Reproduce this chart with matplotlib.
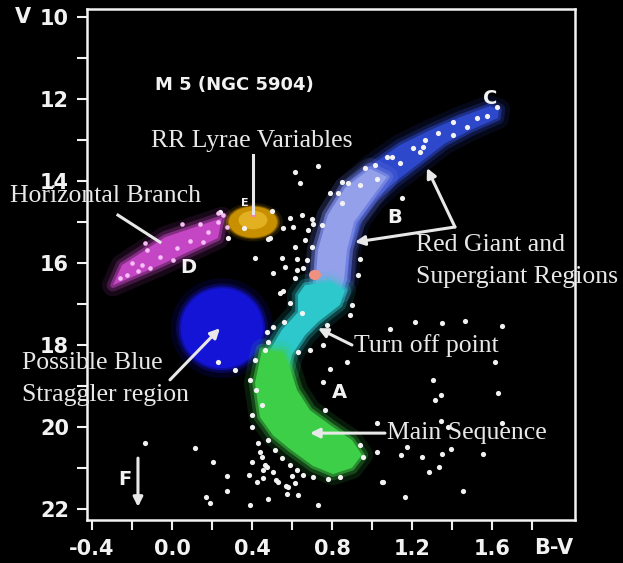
import matplotlib
matplotlib.use("Agg")
import matplotlib.pyplot as plt
from matplotlib.patches import Polygon, Ellipse

plt.rcParams['axes.unicode_minus'] = False

# region outlines in (B-V, V)
hb_bv = [-0.295, -0.06, 0.23, 0.25, -0.035, -0.25]
hb_v = [16.54, 16.05, 15.39, 14.90, 15.37, 16.05]

rgb_bv = [0.715, 0.73, 0.78, 0.865, 0.99, 1.14, 1.29, 1.44, 1.59, 1.635,
          1.63, 1.49, 1.365, 1.24, 1.115, 1.015, 0.94, 0.89, 0.88, 0.84]
rgb_v = [16.66, 15.68, 14.83, 14.15, 13.63, 13.12, 12.76, 12.44, 12.17, 12.25,
         12.46, 12.76, 13.08, 13.55, 14.02, 14.46, 14.95, 15.68, 16.41, 16.71]

sgb_bv = [0.715, 0.73, 0.78, 0.865, 0.99, 1.075, 0.99, 0.91, 0.875, 0.86, 0.84]
sgb_v = [16.66, 15.68, 14.83, 14.17, 13.7, 13.9, 14.46, 15.0, 15.68, 16.41, 16.71]

to_bv = [0.50, 0.49, 0.55, 0.63, 0.63, 0.665, 0.79, 0.865, 0.84, 0.73, 0.665, 0.60, 0.58]
to_v = [18.66, 18.12, 17.63, 17.20, 16.78, 16.54, 16.46, 16.66, 17.02, 17.44, 17.76, 18.24, 18.66]

ms_bv = [0.45, 0.415, 0.44, 0.505, 0.59, 0.705, 0.805,
         0.90, 0.95, 0.90, 0.79, 0.69, 0.625, 0.59, 0.555]
ms_v = [18.12, 18.93, 19.76, 20.20, 20.54, 20.95, 21.15,
        21.00, 20.68, 20.32, 19.95, 19.59, 19.10, 18.56, 18.17]

# RR Lyrae and blue straggler blobs (centre, width, height)
rr_bv, rr_v, rr_w, rr_h = 0.405, 15.0, 0.24, 0.75
bs_bv, bs_v, bs_w, bs_h = 0.25, 17.59, 0.41, 1.95

# stars on the horizontal branch
hbs_bv = [0.05, 0.14, 0.23, 0.255, 0.23, 0.275, 0.155, 0.005, -0.15, -0.125,
          -0.26, -0.225, -0.11, 0.025, -0.135, -0.2, -0.06, 0.09, 0.18, -0.17]
hbs_v = [15.05, 15.05, 14.78, 14.83, 15.0, 15.12, 15.49, 15.93, 16.05, 15.68,
         16.37, 16.29, 16.12, 15.63, 15.51, 16.0, 15.85, 15.45, 15.25, 16.2]

# field / cluster stars
star_bv = [1.625, 1.575, 1.525, 1.475, 1.405, 1.405, 1.33, 1.265, 1.255, 1.205,
           1.24, 1.10, 1.14, 1.015, 0.965, 1.025, 1.15, 1.075, 0.73, 0.615,
           0.64, 0.85, 0.88, 0.79, 0.83, 0.85, 0.94, 0.50, 0.59, 0.65,
           0.70, 0.705, 0.555, 0.605, 0.68, 0.75, 0.48, 0.615, 0.665, 0.70,
           0.55, 0.625, 0.675, 0.565, 0.625, 0.655, 0.505, 0.615, 0.555, 0.415,
           0.94, 0.93, 0.49, 0.28, 0.24, 0.54, 0.59, 0.65, 0.505, 0.56,
           0.48, 0.315, 0.23, 0.39, 0.775, 0.765, 0.63, 0.69, 0.755, 0.90,
           0.89, 0.875, 0.79, 0.755, 0.765, 0.40, 0.40, 1.025, 0.94, 0.955,
           1.025, 1.05, 0.475, 1.09, 1.215, 1.35, 1.465, 1.65, 1.615, 1.305,
           1.345, 1.315, 1.63, 1.345, 1.38, 1.65, 1.175, 1.145, 1.25, 1.35,
           1.395, 1.555, 1.285, 1.335, 1.055, 1.455, 1.165, 0.73, -0.135, 0.115,
           0.205, 0.275, 0.275, 0.17, 0.19, 0.43, 0.40, 0.385, 0.39, 0.45,
           0.465, 0.425, 0.455, 0.505, 0.53, 0.58, 0.615, 0.575, 0.63, 0.48,
           0.655, 0.705, 0.78, 0.84, 0.475, 0.48, 0.515, 0.55, 0.59, 0.625,
           0.415, 0.42, 0.45, 0.465, 0.60, 0.57, 0.52, 0.455, 0.44, 0.36]
star_v = [12.20, 12.41, 12.46, 12.68, 12.56, 12.88, 12.83, 13.00, 13.17, 13.20,
          13.29, 13.41, 13.56, 13.61, 13.68, 13.95, 14.41, 13.41, 13.63, 13.78,
          14.05, 14.02, 14.05, 14.29, 14.29, 14.54, 14.10, 14.73, 14.90, 14.83,
          14.93, 15.05, 15.15, 15.12, 15.20, 15.07, 15.41, 15.61, 15.44, 15.61,
          15.88, 15.90, 15.93, 16.10, 16.17, 16.12, 16.24, 16.37, 16.68, 15.88,
          15.90, 16.29, 15.39, 15.39, 14.76, 16.73, 16.98, 17.22, 17.56, 17.44,
          17.93, 18.61, 18.41, 18.85, 17.51, 17.68, 18.17, 18.12, 18.00, 17.02,
          17.27, 18.41, 18.59, 18.90, 19.59, 19.71, 20.00, 19.90, 20.44, 20.73,
          20.61, 21.34, 17.68, 17.61, 17.44, 17.46, 17.41, 17.54, 18.41, 18.85,
          19.22, 19.34, 19.17, 19.85, 20.00, 19.90, 20.49, 20.68, 20.73, 20.66,
          20.54, 20.66, 21.10, 20.98, 21.34, 21.56, 21.71, 21.90, 20.39, 20.51,
          20.85, 21.20, 21.56, 21.71, 21.85, 20.39, 20.85, 21.17, 21.90, 20.73,
          20.93, 21.34, 21.24, 21.10, 21.34, 21.46, 21.37, 21.63, 21.66, 21.76,
          21.17, 21.22, 21.27, 21.22, 20.98, 20.32, 20.56, 20.76, 20.93, 21.05,
          18.37, 19.10, 19.46, 18.12, 21.20, 21.45, 21.30, 21.05, 20.6, 15.15]

white = '#f2f2f2'
sans = 'DejaVu Sans'


def glow_poly(ax, xs, ys, color, z):
    pts = list(zip(xs, ys))
    for lw, a in [(16, 0.12), (9, 0.25), (4, 0.5)]:
        ax.add_patch(Polygon(pts, closed=True, fc='none', ec=color, lw=lw,
                             alpha=a, joinstyle='round', zorder=z))
    ax.add_patch(Polygon(pts, closed=True, fc=color, ec='none', zorder=z))


def glow_ell(ax, x, y, w, h, color, z):
    for k, a in [(1.25, 0.15), (1.12, 0.3), (1.05, 0.6)]:
        ax.add_patch(Ellipse((x, y), w * k, h * k, fc=color, ec='none', alpha=a, zorder=z))
    ax.add_patch(Ellipse((x, y), w, h, fc=color, ec='none', zorder=z))


fig = plt.figure(figsize=(6.23, 5.63), dpi=100, facecolor='black')
ax = fig.add_axes([0.1396, 0.0764, 0.7833, 0.9076], facecolor='black')

glow_poly(ax, hb_bv, hb_v, '#c446c4', 2)
glow_poly(ax, rgb_bv, rgb_v, '#2e48cc', 2)
glow_poly(ax, sgb_bv, sgb_v, '#95a0ea', 3)
glow_poly(ax, to_bv, to_v, '#2cc8cc', 3)
glow_poly(ax, ms_bv, ms_v, '#3ecf48', 3)
glow_ell(ax, rr_bv, rr_v, rr_w, rr_h, '#c89000', 2)
ax.add_patch(Ellipse((rr_bv, rr_v - 0.05), rr_w * 0.6, rr_h * 0.6, fc='#e2b020', ec='none', zorder=2))
ax.add_patch(Ellipse((0.715, 16.29), 0.06, 0.25, fc='#f09080', ec='none', zorder=3))
glow_ell(ax, bs_bv, bs_v, bs_w, bs_h, '#1414d6', 2)

ax.scatter(star_bv, star_v, s=14, c=white, linewidths=0, zorder=5)
ax.scatter(hbs_bv, hbs_v, s=11, c='#f6c0f6', linewidths=0, zorder=5)
ax.scatter([rr_bv], [rr_v - 0.2], s=14, c='#f080c0', linewidths=0, zorder=5)

ax.set_xlim(-0.425, 2.015)
ax.set_ylim(22.27, 9.8)
ax.set_xticks([-0.4, 0.0, 0.4, 0.8, 1.2, 1.6])
ax.set_xticks([-0.2, 0.2, 0.6, 1.0, 1.4, 1.8], minor=True)
ax.set_xticklabels(['-0.4', '0.0', '0.4', '0.8', '1.2', '1.6'])
ax.set_yticks([10, 12, 14, 16, 18, 20, 22])
ax.set_yticks([11, 13, 15, 17, 19, 21], minor=True)
for s in ax.spines.values():
    s.set_color(white)
    s.set_linewidth(1.8)
ax.tick_params(which='both', colors=white, direction='out', length=7, width=1.5)
ax.tick_params(axis='y', pad=6)
ax.tick_params(axis='x', pad=7)
for lab in ax.get_xticklabels() + ax.get_yticklabels():
    lab.set_fontfamily(sans)
    lab.set_fontweight('bold')
    lab.set_fontsize(15)
    lab.set_color(white)

fig.text(0.024, 0.97, 'V', color=white, fontsize=15, fontweight='bold',
         family=sans, ha='left', va='center')
fig.text(0.888, 0.027, 'B-V', color=white, fontsize=15, fontweight='bold',
         family=sans, ha='center', va='center')

ax.text(0.31, 11.66, 'M 5 (NGC 5904)', color=white, fontsize=13, fontweight='bold',
        family=sans, ha='center', va='center')

for t, x, y in [('C', 1.59, 11.98), ('B', 1.115, 14.90), ('D', 0.08, 16.12),
                ('A', 0.84, 19.17), ('F', -0.235, 21.29)]:
    ax.text(x, y, t, color=white, fontsize=14, fontweight='bold',
            family=sans, ha='center', va='center', zorder=6)
ax.text(0.365, 14.54, 'E', color=white, fontsize=8, fontweight='bold',
        family=sans, ha='center', va='center', zorder=6)

serif = dict(color='#e8e8e8', fontsize=18.5, family='Liberation Serif', va='center', zorder=7)
ax.text(0.40, 13.02, 'RR Lyrae Variables', ha='center', **serif)
ax.text(-0.81, 14.37, 'Horizontal Branch', ha='left', **serif)
ax.text(1.22, 15.56, 'Red Giant and', ha='left', **serif)
ax.text(1.22, 16.34, 'Supergiant Regions', ha='left', **serif)
ax.text(0.91, 18.0, 'Turn off point', ha='left', **serif)
ax.text(-0.75, 18.44, 'Possible Blue', ha='left', **serif)
ax.text(-0.75, 19.22, 'Straggler region', ha='left', **serif)
ax.text(1.075, 20.15, 'Main Sequence', ha='left', **serif)

line = dict(color='#e8e8e8', lw=2.2, zorder=6)
ax.plot([0.405, 0.405], [13.37, 14.78], **line)
ax.plot([-0.27, -0.06], [14.83, 15.49], **line)

arrow = dict(arrowstyle='-|>', color='#e8e8e8', lw=2.2, mutation_scale=14,
             shrinkA=0, shrinkB=0)
for (x0, y0), (x1, y1) in [((1.415, 15.12), (1.275, 13.68)),
                           ((1.415, 15.12), (0.915, 15.49)),
                           ((0.90, 18.0), (0.73, 17.59)),
                           ((-0.01, 18.85), (0.24, 17.59)),
                           ((1.065, 20.15), (0.69, 20.15)),
                           ((-0.17, 20.76), (-0.17, 21.95))]:
    ax.annotate('', xy=(x1, y1), xytext=(x0, y0), arrowprops=arrow, zorder=6)

fig.savefig('out.png', dpi=100, facecolor='black')
